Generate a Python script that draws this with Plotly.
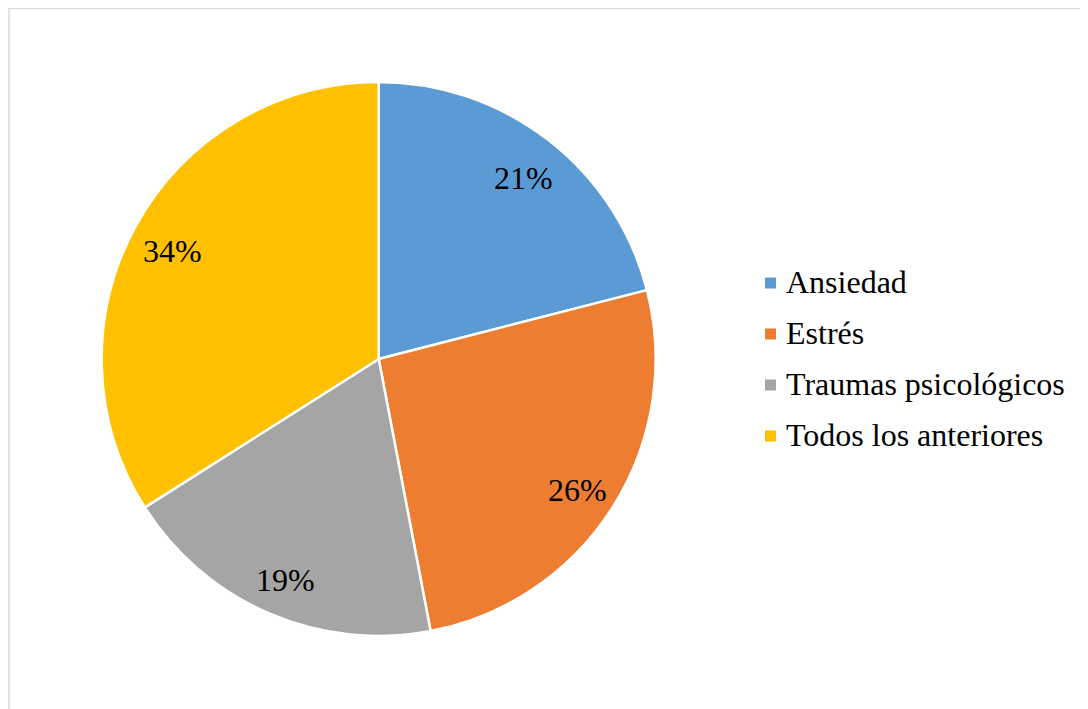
import math
import plotly.graph_objects as go

labels = ["Ansiedad", "Estrés", "Traumas psicológicos", "Todos los anteriores"]
values = [21, 26, 19, 34]
colors = ["#5B9BD5", "#ED7D31", "#A5A5A5", "#FFC000"]

W, H = 1088, 709
cx, cy, R = 370.7, 351, 277  # pie center / radius in px (page adds 8px body margin)
FONT = "Liberation Serif"

fig = go.Figure(go.Pie(
    labels=labels,
    values=values,
    sort=False,
    direction="clockwise",
    rotation=0,
    marker=dict(colors=colors, line=dict(color="white", width=2.5)),
    textinfo="none",
    hoverinfo="label+percent",
    showlegend=False,
    domain=dict(x=[(cx - R) / W, (cx + R) / W], y=[1 - (cy + R) / H, 1 - (cy - R) / H]),
))

# percentage labels at the slice mid-angle
total = sum(values)
annotations = []
cum = 0
for v in values:
    theta = 2 * math.pi * (cum + v / 2) / total
    cum += v
    r = 0.85 * R
    x = cx + r * math.sin(theta)
    y = cy - r * math.cos(theta) + 5
    annotations.append(dict(
        x=x / W, y=1 - y / H, xref="paper", yref="paper",
        xanchor="center", yanchor="middle",
        text=f"{round(100 * v / total)}%", showarrow=False,
        font=dict(family=FONT, size=32, color="black"),
    ))

# legend drawn by hand to get the wider row spacing
shapes = [dict(type="rect", xref="paper", yref="paper",
               x0=1 / W, x1=1.02, y0=-0.02, y1=1 - 0.5 / H,
               line=dict(color="#D9D9D9", width=1.5))]
lx, ly, step = 757, 275, 51
for i, (lab, col) in enumerate(zip(labels, colors)):
    yc = ly + i * step
    shapes.append(dict(type="rect", xref="paper", yref="paper",
                       x0=lx / W, x1=(lx + 11) / W,
                       y0=1 - (yc + 5.5) / H, y1=1 - (yc - 5.5) / H,
                       fillcolor=col, line=dict(width=0)))
    annotations.append(dict(
        x=(lx + 19) / W, y=1 - (yc - 1) / H, xref="paper", yref="paper",
        xanchor="left", yanchor="middle", text=lab, showarrow=False,
        font=dict(family=FONT, size=32, color="black"),
    ))

fig.update_layout(
    width=W, height=H,
    margin=dict(l=0, r=0, t=0, b=0),
    paper_bgcolor="white",
    font=dict(family=FONT, size=32, color="black"),
    annotations=annotations,
    shapes=shapes,
)

fig.write_html("out.html")
